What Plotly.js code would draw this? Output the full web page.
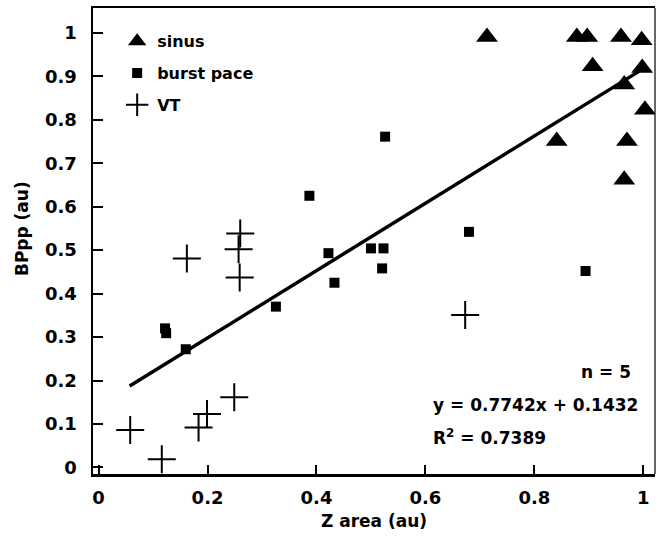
<!DOCTYPE html>
<html>
<head>
<meta charset="utf-8">
<script src="https://cdn.plot.ly/plotly-3.0.1.min.js"></script>
<style>html,body{margin:0;padding:0;background:#fff;}</style>
</head>
<body>
<div id="chart" style="width:660px;height:541px;"></div>
<script>
// Data
const sinusX = [0.713, 0.878, 0.897, 0.959, 0.997, 0.907, 0.998, 0.965, 1.003, 0.841, 0.970, 0.965];
const sinusY = [0.99, 0.99, 0.99, 0.99, 0.983, 0.923, 0.919, 0.881, 0.823, 0.751, 0.751, 0.662];

const burstX = [0.122, 0.124, 0.160, 0.3255, 0.387, 0.422, 0.433, 0.500, 0.523, 0.5205, 0.526, 0.680, 0.894];
const burstY = [0.320, 0.309, 0.272, 0.370, 0.625, 0.493, 0.425, 0.504, 0.504, 0.458, 0.761, 0.542, 0.452];

const vtX = [0.058, 0.116, 0.1835, 0.199, 0.249, 0.162, 0.260, 0.257, 0.259, 0.673];
const vtY = [0.086, 0.019, 0.092, 0.123, 0.1615, 0.481, 0.538, 0.502, 0.437, 0.351];

// Linear fit shown in the chart
const fitSlope = 0.7742;
const fitIntercept = 0.1432;
const fitX = [0.057, 0.995];
const fitY = fitX.map(x => fitSlope * x + fitIntercept);

const annN = "n = 5";
const annEq = "y = 0.7742x + 0.1432";
const annR2 = "R<sup>2</sup> = 0.7389";
const xTitle = "Z area (au)";
const yTitle = "BPpp (au)";

const xTicks = [0, 0.2, 0.4, 0.6, 0.8, 1];
const yTicks = [0, 0.1, 0.2, 0.3, 0.4, 0.5, 0.6, 0.7, 0.8, 0.9, 1];

const FONT = "DejaVu Sans, Arial, sans-serif";
const font = (s) => ({family: FONT, size: s, color: "#000", weight: 700});

const traces = [
  {x: fitX, y: fitY, mode: "lines", type: "scatter", showlegend: false,
   line: {color: "#000", width: 3.5}, hoverinfo: "skip"},
  {x: sinusX, y: sinusY, mode: "markers", type: "scatter", name: "sinus", legendgroup: "a",
   marker: {symbol: "triangle-up", size: 19, color: "#000"}},
  {x: burstX, y: burstY, mode: "markers", type: "scatter", name: "burst pace", legendgroup: "b",
   marker: {symbol: "square", size: 10, color: "#000"}},
  {x: vtX, y: vtY, mode: "markers", type: "scatter", name: "VT", legendgroup: "c",
   marker: {symbol: "cross-thin-open", size: 20, color: "#000", line: {color: "#000", width: 2}}}
];

const layout = {
  width: 660, height: 541,
  paper_bgcolor: "#fff", plot_bgcolor: "#fff",
  margin: {l: 93, r: 5, t: 8, b: 67},
  font: font(17),
  showlegend: true,
  legend: {x: 0.043, y: 0.965, xanchor: "left", yanchor: "top",
           bgcolor: "rgba(0,0,0,0)", font: font(16), tracegroupgap: 8},
  xaxis: {
    range: [-0.0103, 1.0215], tickvals: xTicks, ticks: "inside", ticklen: 9, tickwidth: 2,
    tickcolor: "#000", showline: true, linecolor: "#000", linewidth: 2.5, mirror: true,
    showgrid: false, zeroline: false, tickfont: font(18), ticklabelstandoff: 6,
    title: {text: xTitle, font: font(17), standoff: 8}
  },
  yaxis: {
    range: [-0.015, 1.057], tickvals: yTicks, ticks: "inside", ticklen: 10, tickwidth: 2,
    tickcolor: "#000", showline: true, linecolor: "#000", linewidth: 2.5, mirror: false,
    showgrid: false, zeroline: false, tickfont: font(18), ticklabelstandoff: 10
  },
  shapes: [
    {type: "line", xref: "paper", yref: "paper", x0: 1, x1: 1, y0: 0, y1: 1,
     line: {color: "#000", width: 1.2}}
  ],
  annotations: [
    {x: -0.126, y: 0.526, xref: "paper", yref: "paper", xanchor: "center", yanchor: "middle",
     text: yTitle, textangle: -90, showarrow: false, font: font(17)},
    {x: 0.9817, y: 0.2205, xref: "x", yref: "y", xanchor: "right", yanchor: "middle",
     text: annN, showarrow: false, font: font(17)},
    {x: 0.6105, y: 0.1438, xref: "x", yref: "y", xanchor: "left", yanchor: "middle",
     text: annEq, showarrow: false, font: font(17)},
    {x: 0.6105, y: 0.0709, xref: "x", yref: "y", xanchor: "left", yanchor: "middle",
     text: annR2, showarrow: false, font: font(17)}
  ]
};

Plotly.newPlot("chart", traces, layout, {displayModeBar: false, staticPlot: true});
</script>
</body>
</html>
